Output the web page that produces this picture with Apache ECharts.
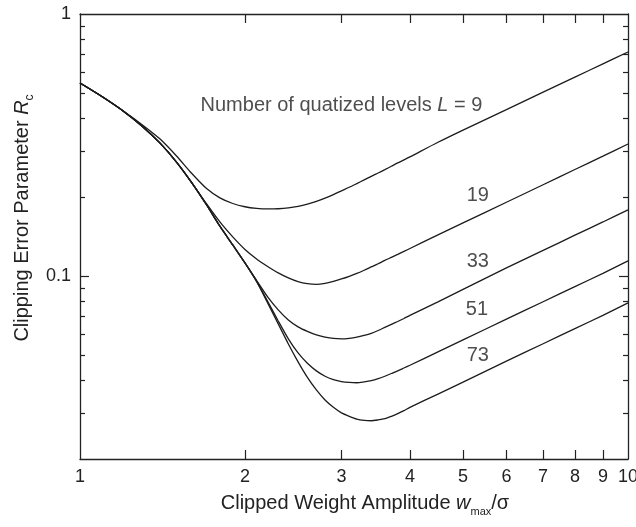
<!DOCTYPE html>
<html><head><meta charset="utf-8">
<script src="https://cdn.jsdelivr.net/npm/echarts@6/dist/echarts.min.js"></script>
<style>html,body{margin:0;padding:0;background:#fff}#c{width:636px;height:527px}</style>
</head><body><div id="c"></div>
<script>
// x values (w_max / sigma)
const xValues = [1, 1.1, 1.2, 1.3, 1.4, 1.5, 1.6, 1.7, 1.8, 1.9, 2.0, 2.1, 2.2, 2.3, 2.4, 2.5, 2.6, 2.7, 2.8, 2.9, 3.0, 3.1, 3.2, 3.3, 3.4, 3.5, 3.6, 3.7, 3.8, 3.9, 4.0, 4.5, 5, 6, 7, 8, 9, 10];
// Clipping error parameter R_c for each number of quantized levels L
const rcL9  = [0.545, 0.482, 0.426, 0.377, 0.333, 0.287, 0.246, 0.216, 0.1985, 0.189, 0.1837, 0.1811, 0.1802, 0.1805, 0.1818, 0.1842, 0.1878, 0.1925, 0.1981, 0.2045, 0.2113, 0.2180, 0.2252, 0.2325, 0.2400, 0.2472, 0.2545, 0.2622, 0.2700, 0.2772, 0.2846, 0.3238, 0.3605, 0.4316, 0.5030, 0.5743, 0.6450, 0.7161];
const rcL19 = [0.545, 0.482, 0.4256, 0.3723, 0.3213, 0.2721, 0.2267, 0.1891, 0.1607, 0.1409, 0.1262, 0.1161, 0.1087, 0.1027, 0.0983, 0.0951, 0.0934, 0.0928, 0.0936, 0.0953, 0.0974, 0.0997, 0.1022, 0.1051, 0.1082, 0.1113, 0.1146, 0.1177, 0.1208, 0.1240, 0.1273, 0.1434, 0.1593, 0.1911, 0.2229, 0.2548, 0.2866, 0.3190];
const rcL33 = [0.545, 0.482, 0.4256, 0.3723, 0.3213, 0.2721, 0.2267, 0.1874, 0.1548, 0.1313, 0.1121, 0.0961, 0.0832, 0.0742, 0.0679, 0.0639, 0.0614, 0.0595, 0.0584, 0.0577, 0.0575, 0.0578, 0.0584, 0.0593, 0.0604, 0.0619, 0.0636, 0.0653, 0.0670, 0.0688, 0.0707, 0.0796, 0.0888, 0.1073, 0.1251, 0.1431, 0.1607, 0.1786];
const rcL51 = [0.545, 0.482, 0.4256, 0.3723, 0.3213, 0.2721, 0.2267, 0.1874, 0.1548, 0.1313, 0.1121, 0.0953, 0.0800, 0.0673, 0.0575, 0.0508, 0.0464, 0.0434, 0.0414, 0.0402, 0.0395, 0.0392, 0.0391, 0.0394, 0.0398, 0.0405, 0.0414, 0.0424, 0.0434, 0.0445, 0.0456, 0.0513, 0.0570, 0.0684, 0.0797, 0.0910, 0.1023, 0.1141];
const rcL73 = [0.545, 0.482, 0.4256, 0.3723, 0.3213, 0.2721, 0.2267, 0.1874, 0.1548, 0.1313, 0.1121, 0.0953, 0.0789, 0.0656, 0.0550, 0.0470, 0.0410, 0.0367, 0.0336, 0.0315, 0.0300, 0.0291, 0.0284, 0.0281, 0.0280, 0.0282, 0.0285, 0.0291, 0.0298, 0.0306, 0.0315, 0.0354, 0.0393, 0.0473, 0.0551, 0.0629, 0.0707, 0.0789];
const seriesNames = ['L = 9', 'L = 19', 'L = 33', 'L = 51', 'L = 73'];
const seriesValues = [rcL9, rcL19, rcL33, rcL51, rcL73];

// tick labels / tick positions
const xTickLabels = [1, 2, 3, 4, 5, 6, 7, 8, 9, 10];
const xTicks = [2, 3, 4, 5, 6, 7, 8, 9];
const yTickLabels = [0.1, 1];
const yMajorTicks = [0.1];
const yMinorTicks = [0.03, 0.04, 0.05, 0.06, 0.07, 0.08, 0.09, 0.2, 0.3, 0.4, 0.5, 0.6, 0.7, 0.8, 0.9];

// in-plot annotations
const annotText = ['Number of quatized levels {i|L} = 9', '19', '33', '51', '73'];
const annotX = [3.0, 5.32, 5.32, 5.30, 5.32];
const annotY = [0.449, 0.202, 0.114, 0.0742, 0.0495];

const FONT = '"Liberation Sans", Arial, Helvetica, sans-serif';
const INK = '#222';

const chart = echarts.init(document.getElementById('c'), null, {renderer: 'canvas'});

function xAxisCfg(pos, showLabels) {
  return {
    type: 'log', logBase: 10, min: 1, max: 10, position: pos,
    axisLine: {show: true, onZero: false, lineStyle: {color: INK, width: 1.3}},
    axisTick: {show: true, inside: true, length: 9, customValues: xTicks, lineStyle: {color: INK, width: 1.2}},
    axisLabel: {show: showLabels, customValues: xTickLabels, margin: 9, color: INK, fontSize: 18, fontFamily: FONT,
      hideOverlap: false, showMinLabel: true, showMaxLabel: true, formatter: v => String(Math.round(v))},
    splitLine: {show: false}, minorTick: {show: false}, minorSplitLine: {show: false}
  };
}
function yAxisCfg(pos, ticks, len, labels, line) {
  const a = {
    type: 'log', logBase: 10, min: 0.02, max: 1, position: pos,
    axisLine: {show: line, onZero: false, lineStyle: {color: INK, width: 1.3}},
    axisTick: {show: true, inside: true, length: len, customValues: ticks, lineStyle: {color: INK, width: 1.2}},
    axisLabel: {show: !!labels, margin: 9, color: INK, fontSize: 18, fontFamily: FONT, hideOverlap: false,
      showMinLabel: true, showMaxLabel: true, formatter: v => (v >= 1 ? '1' : String(+v.toFixed(3)))},
    splitLine: {show: false}, minorTick: {show: false}, minorSplitLine: {show: false}
  };
  if (labels) a.axisLabel.customValues = labels;
  return a;
}

const series = seriesValues.map((vals, i) => ({
  name: seriesNames[i], type: 'line', xAxisIndex: 0, yAxisIndex: 0,
  data: xValues.map((x, j) => [x, vals[j]]),
  showSymbol: false, symbol: 'none', smooth: 0.25,
  lineStyle: {color: '#1c1c1c', width: 1.3}, silent: true
}));
series.push({
  name: 'annotations', type: 'scatter', xAxisIndex: 0, yAxisIndex: 0,
  data: annotX.map((x, i) => [x, annotY[i]]), symbolSize: 0, silent: true,
  label: {show: true, position: 'inside', color: INK, fontSize: 20, fontFamily: FONT,
    formatter: p => annotText[p.dataIndex],
    rich: {i: {fontStyle: 'italic', fontSize: 20, fontFamily: FONT, color: INK}}}
});

chart.setOption({
  animation: false,
  backgroundColor: '#fff',
  grid: {left: 80, right: 8, top: 14, bottom: 68, containLabel: false, outerBoundsMode: 'none'},
  xAxis: [xAxisCfg('bottom', true), xAxisCfg('top', false)],
  yAxis: [
    yAxisCfg('left', yMajorTicks, 9, yTickLabels, true),
    yAxisCfg('left', yMinorTicks, 5, null, false),
    yAxisCfg('right', yMajorTicks, 9, null, true),
    yAxisCfg('right', yMinorTicks, 5, null, false)
  ],
  series: series,
  graphic: [
    {type: 'text', x: 365, y: 503, silent: true,
      style: {text: '{a|Clipped Weight Amplitude }{i|w}{s|max}{a|/σ}', align: 'center', verticalAlign: 'middle',
        rich: {
          a: {fontSize: 20, fontFamily: FONT, fill: INK, color: INK, lineHeight: 28, verticalAlign: 'middle'},
          i: {fontSize: 20, fontFamily: FONT, fill: INK, color: INK, fontStyle: 'italic', lineHeight: 28, verticalAlign: 'middle'},
          s: {fontSize: 11, fontFamily: FONT, fill: INK, color: INK, lineHeight: 8, verticalAlign: 'bottom'}
        }}},
    {type: 'text', x: 22, y: 218, rotation: Math.PI / 2, silent: true,
      style: {text: '{a|Clipping Error Parameter }{i|R}{s|c}', align: 'center', verticalAlign: 'middle',
        rich: {
          a: {fontSize: 20, fontFamily: FONT, fill: INK, color: INK, lineHeight: 28, verticalAlign: 'middle'},
          i: {fontSize: 20, fontFamily: FONT, fill: INK, color: INK, fontStyle: 'italic', lineHeight: 28, verticalAlign: 'middle'},
          s: {fontSize: 12, fontFamily: FONT, fill: INK, color: INK, lineHeight: 12, verticalAlign: 'bottom'}
        }}}
  ]
});
</script></body></html>
